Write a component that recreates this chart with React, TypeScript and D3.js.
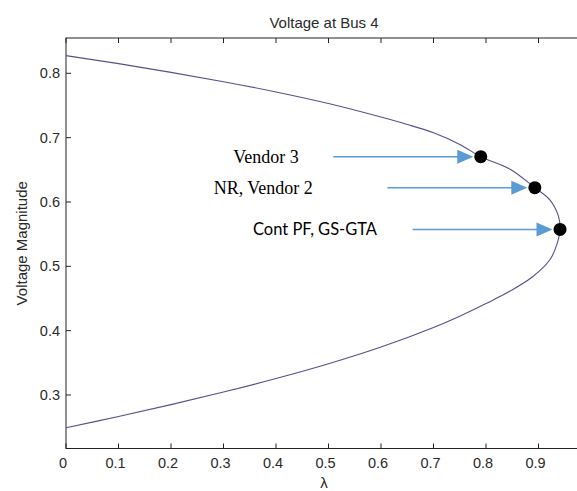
import React, { useRef, useEffect } from "react";
import * as d3 from "d3";

// PV curve, traced along the nose: upper branch out, lower branch back
const lambdaValues = [0, 0.1, 0.2, 0.3, 0.4, 0.5, 0.6, 0.65, 0.7, 0.75, 0.79, 0.846, 0.893, 0.922, 0.938, 0.941,
  0.935, 0.922, 0.89, 0.846, 0.801, 0.75, 0.7, 0.6, 0.5, 0.4, 0.3, 0.2, 0.1, 0];
const voltageValues = [0.8275, 0.815, 0.8015, 0.787, 0.771, 0.753, 0.732, 0.7205, 0.7075, 0.6895, 0.6704, 0.651, 0.6222, 0.603, 0.578, 0.5574,
  0.534, 0.5105, 0.4845, 0.4615, 0.4425, 0.4225, 0.405, 0.3745, 0.3485, 0.3255, 0.3045, 0.285, 0.2665, 0.249];

const markerLabels = ["Vendor 3", "NR, Vendor 2", "Cont PF, GS-GTA"];
const markerLambda = [0.79, 0.893, 0.941];
const markerVoltage = [0.6704, 0.6222, 0.5574];

const xTicks = [0, 0.1, 0.2, 0.3, 0.4, 0.5, 0.6, 0.7, 0.8, 0.9];
const yTicks = [0.3, 0.4, 0.5, 0.6, 0.7, 0.8];

// label styling per annotation (offset of label end from the dot)
const labelStyle = [
  { dx: -182, font: "'Liberation Serif', 'Times New Roman', serif", size: 18 },
  { dx: -222, font: "'Liberation Serif', 'Times New Roman', serif", size: 18 },
  { dx: -183, font: "Lato, 'Liberation Sans', Arial, sans-serif", size: 16.5 },
];

const W = 577;
const H = 491;
const left = 66, right = 591, top = 38, bottom = 448.5;

const App = () => {
  const svgRef = useRef(null);

  useEffect(() => {
    const svg = d3.select(svgRef.current);
    svg.selectAll("*").remove();

    const xScale = d3.scaleLinear().domain([0, 1]).range([left, right]);
    const yScale = d3.scaleLinear().domain([0.2168, 0.8549]).range([bottom, top]);

    const axisColor = "#222";
    const textColor = "#2a2a2a";
    const tickFont = "'Liberation Sans', Arial, sans-serif";

    // axes box
    svg.append("rect")
      .attr("x", left).attr("y", top)
      .attr("width", right - left).attr("height", bottom - top)
      .attr("fill", "none").attr("stroke", axisColor).attr("stroke-width", 1);

    const ticks = svg.append("g").attr("stroke", axisColor).attr("stroke-width", 1);
    xTicks.forEach(t => {
      const x = xScale(t);
      ticks.append("line").attr("x1", x).attr("x2", x).attr("y1", bottom).attr("y2", bottom - 5);
      ticks.append("line").attr("x1", x).attr("x2", x).attr("y1", top).attr("y2", top + 5);
    });
    yTicks.forEach(t => {
      const y = yScale(t);
      ticks.append("line").attr("x1", left).attr("x2", left + 5).attr("y1", y).attr("y2", y);
    });

    svg.append("g")
      .selectAll("text")
      .data(xTicks)
      .enter()
      .append("text")
      .attr("x", d => xScale(d) - 3)
      .attr("y", bottom + 19)
      .attr("text-anchor", "middle")
      .attr("font-family", tickFont)
      .attr("font-size", 14.5)
      .attr("fill", textColor)
      .text(d => d3.format("")(d));

    svg.append("g")
      .selectAll("text")
      .data(yTicks)
      .enter()
      .append("text")
      .attr("x", left - 6)
      .attr("y", d => yScale(d) + 5)
      .attr("text-anchor", "end")
      .attr("font-family", tickFont)
      .attr("font-size", 14.5)
      .attr("fill", textColor)
      .text(d => d3.format(".1f")(d));

    // title and axis labels
    svg.append("text")
      .attr("x", 324).attr("y", 27.5)
      .attr("text-anchor", "middle")
      .attr("font-family", tickFont).attr("font-size", 15)
      .attr("fill", textColor)
      .text("Voltage at Bus 4");
    svg.append("text")
      .attr("x", 324).attr("y", 488)
      .attr("text-anchor", "middle")
      .attr("font-family", tickFont).attr("font-size", 15)
      .attr("fill", textColor)
      .text("λ");
    svg.append("text")
      .attr("transform", `translate(27, ${(top + bottom) / 2}) rotate(-90)`)
      .attr("text-anchor", "middle")
      .attr("font-family", tickFont).attr("font-size", 15)
      .attr("fill", textColor)
      .text("Voltage Magnitude");

    // curve
    const pts = lambdaValues.map((l, i) => [l, voltageValues[i]]);
    const line = d3.line()
      .x(d => xScale(d[0]))
      .y(d => yScale(d[1]))
      .curve(d3.curveCatmullRom.alpha(0.5));
    svg.append("path")
      .attr("d", line(pts))
      .attr("fill", "none")
      .attr("stroke", "#52528f")
      .attr("stroke-width", 1.1);

    // annotations: arrows, dots, labels
    const arrowColor = "#5b9bd5";
    markerLabels.forEach((label, i) => {
      const cx = xScale(markerLambda[i]);
      const cy = yScale(markerVoltage[i]);
      const tipX = cx - 7.5;
      const startX = tipX - 140;
      svg.append("line")
        .attr("x1", startX).attr("x2", tipX - 14)
        .attr("y1", cy).attr("y2", cy)
        .attr("stroke", arrowColor).attr("stroke-width", 1.5);
      svg.append("path")
        .attr("d", `M${tipX},${cy} L${tipX - 16},${cy - 7} L${tipX - 16},${cy + 7} Z`)
        .attr("fill", arrowColor);
      svg.append("circle")
        .attr("cx", cx).attr("cy", cy).attr("r", 6.5)
        .attr("fill", "#000");
      const st = labelStyle[i];
      svg.append("text")
        .attr("x", cx + st.dx).attr("y", cy + 6)
        .attr("text-anchor", "end")
        .attr("font-family", st.font)
        .attr("font-size", st.size)
        .attr("fill", "#000")
        .text(label);
    });
  }, []);

  return (
    <div>
      <svg ref={svgRef} width={W} height={H}
        style={{ position: "absolute", left: 0, top: 0, background: "#fff" }}></svg>
    </div>
  );
};

export default App;
